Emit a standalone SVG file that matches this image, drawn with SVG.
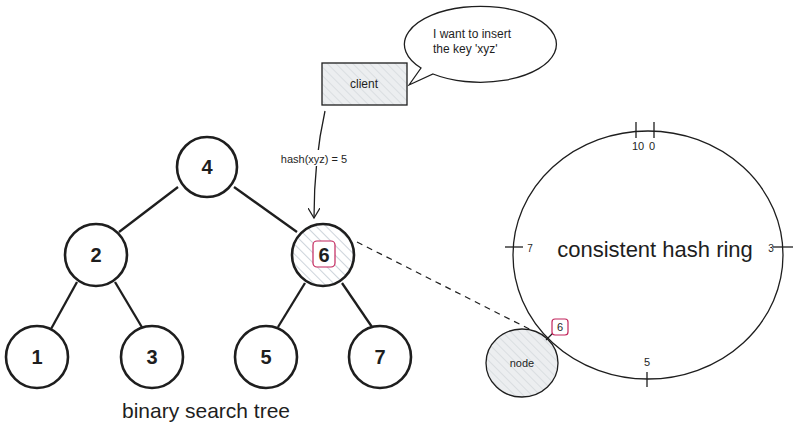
<svg xmlns="http://www.w3.org/2000/svg" width="800" height="431" viewBox="0 0 800 431">
<style>
.n{fill:#fff;stroke:#1e1e1e;stroke-width:2.6}
.e{stroke:#1e1e1e;stroke-width:2.3;fill:none}
.t{font-family:"Liberation Sans",Arial,sans-serif;fill:#1e1e1e;text-anchor:middle}
.big{font-size:20px;font-weight:bold}
.thin{stroke:#1e1e1e;stroke-width:1.3;fill:none}
.pink{fill:#fff;stroke:#c2255c;stroke-width:1.2}
</style>
<defs>
<pattern id="hg" width="6" height="6" patternUnits="userSpaceOnUse" patternTransform="rotate(-45)">
<rect width="6" height="6" fill="#eceef0"/>
<line x1="0" y1="0" x2="0" y2="6" stroke="#c9ced3" stroke-width="1"/>
</pattern>
<pattern id="hb" width="7" height="7" patternUnits="userSpaceOnUse" patternTransform="rotate(-45)">
<rect width="7" height="7" fill="#fff"/>
<line x1="0" y1="0" x2="0" y2="7" stroke="#b8c2cc" stroke-width="1.4"/>
</pattern>
<marker id="ar" markerWidth="12" markerHeight="12" refX="10" refY="6" orient="auto" markerUnits="userSpaceOnUse">
<path d="M0,0 L10,6 L0,12" fill="none" stroke="#1e1e1e" stroke-width="1.2"/>
</marker>
</defs>

<g id="connectors">
<line class="e" x1="178" y1="187" x2="119" y2="232"/>
<line class="e" x1="234" y1="187" x2="297" y2="232"/>
<line class="e" x1="77" y1="282" x2="51" y2="329"/>
<line class="e" x1="115" y1="282" x2="143" y2="329"/>
<line class="e" x1="305" y1="283" x2="278" y2="327"/>
<line class="e" x1="342" y1="283" x2="372" y2="327"/>
<path class="thin" d="M325,111 Q314,160 314,218" marker-end="url(#ar)"/>
<rect x="274" y="150" width="80" height="16" fill="#fff"/>
<text class="t" x="314" y="163" font-size="11">hash(xyz) = 5</text>
<line x1="357" y1="242" x2="545" y2="337" stroke="#1e1e1e" stroke-width="1.2" stroke-dasharray="6,5"/>
</g>

<g id="node-4"><circle class="n" cx="207" cy="167" r="30"/><text class="t big" x="207" y="174">4</text></g>
<g id="node-2"><circle class="n" cx="96" cy="255" r="31"/><text class="t big" x="96" y="262">2</text></g>
<g id="node-6"><circle class="n" cx="323" cy="255" r="31" style="fill:url(#hb)"/><rect class="pink" x="313" y="241" width="22" height="26" rx="4"/><text class="t big" x="324" y="262">6</text></g>
<g id="node-1"><circle class="n" cx="37" cy="357" r="31"/><text class="t big" x="37" y="364">1</text></g>
<g id="node-3"><circle class="n" cx="152" cy="357" r="31"/><text class="t big" x="152" y="364">3</text></g>
<g id="node-5"><circle class="n" cx="266" cy="357" r="31"/><text class="t big" x="266" y="364">5</text></g>
<g id="node-7"><circle class="n" cx="380" cy="357" r="31"/><text class="t big" x="380" y="364">7</text></g>
<g id="tree-label"><text class="t" x="206" y="418" font-size="21">binary search tree</text></g>

<g id="client"><rect x="322" y="63" width="85" height="42" fill="url(#hg)" stroke="#1e1e1e" stroke-width="1.3"/><text class="t" x="364" y="88" font-size="12">client</text></g>

<g id="bubble">
<path d="M409,85 L421,68 A76,38 0 1 1 433,74 Z" fill="#fff" stroke="#1e1e1e" stroke-width="1.3"/>
<text class="t" x="433" y="38" font-size="12" style="text-anchor:start">I want to insert</text>
<text class="t" x="433" y="53" font-size="12" style="text-anchor:start">the key 'xyz'</text>
</g>

<g id="ring">
<ellipse cx="648" cy="255" rx="135" ry="124" fill="none" stroke="#1e1e1e" stroke-width="1.3"/>
<line class="thin" x1="636" y1="122" x2="636" y2="138"/>
<line class="thin" x1="654" y1="122" x2="654" y2="138"/>
<line class="thin" x1="505" y1="247" x2="523" y2="247"/>
<line class="thin" x1="773" y1="247" x2="793" y2="247"/>
<line class="thin" x1="647" y1="372" x2="647" y2="387"/>
<text class="t" x="638" y="150" font-size="11">10</text>
<text class="t" x="652" y="150" font-size="11">0</text>
<text class="t" x="530" y="252" font-size="10">7</text>
<text class="t" x="771" y="252" font-size="10">3</text>
<text class="t" x="647" y="366" font-size="11">5</text>
<text class="t" x="655" y="257" font-size="22">consistent hash ring</text>
</g>

<g id="node">
<ellipse cx="522" cy="363" rx="36" ry="34" fill="url(#hg)" stroke="#1e1e1e" stroke-width="1.3"/>
<text class="t" x="522" y="367" font-size="11">node</text>
</g>

<g id="marker-6">
<line class="thin" x1="553" y1="333" x2="546" y2="340"/>
<rect class="pink" x="552" y="319" width="16" height="16" rx="3"/>
<text class="t" x="560" y="331" font-size="11">6</text>
</g>
</svg>
